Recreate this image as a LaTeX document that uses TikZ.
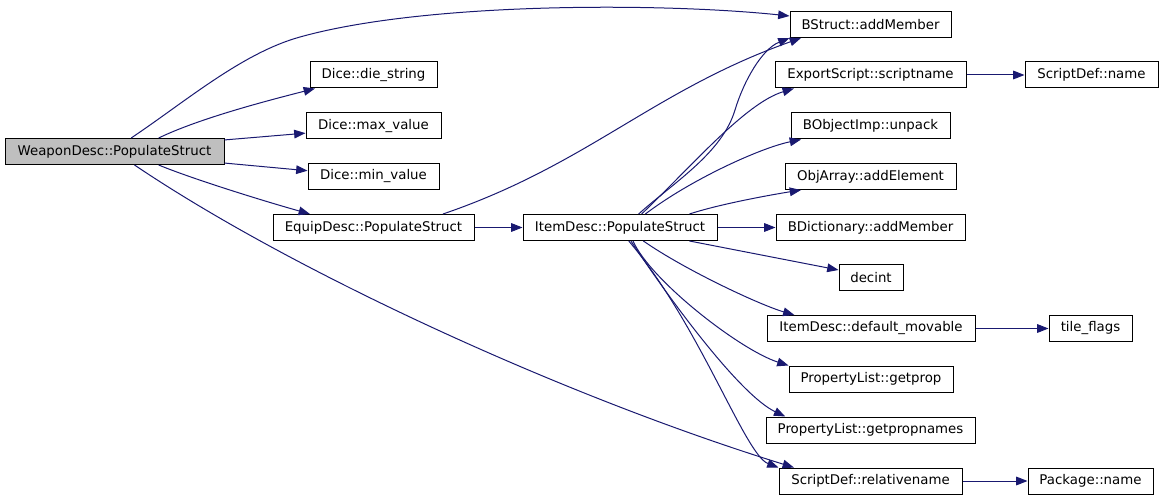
\documentclass[tikz,border=0pt]{standalone}
\usepackage{fontspec}
\setmainfont{DejaVu Sans}
\usetikzlibrary{arrows.meta}
\definecolor{callblue}{RGB}{25,25,112}
\definecolor{rootgrey}{RGB}{191,191,191}
\begin{document}
\begin{tikzpicture}
[
	fn/.style={draw,rectangle,inner xsep=0pt,inner ysep=0pt,minimum height=19.5pt,line width=0.75pt},
	root/.style={fn,fill=rootgrey},
	call/.style={draw=callblue,line width=0.75pt,->},
	>={Triangle[length=8.5pt,width=6.5pt]},
	x=0.75pt,y=-0.75pt
]

	\useasboundingbox (0,0) rectangle (1163,499);

	\node[root,minimum width=164.25pt] at (114.5,151.5) (weapon) {WeaponDesc::PopulateStruct};

	\node[fn,minimum width=95.25pt] at (373.5,75) (dieString) {Dice::die\_string};
	\node[fn,minimum width=101.25pt] at (373.5,126) (maxValue) {Dice::max\_value};
	\node[fn,minimum width=98.25pt] at (373.5,176.5) (minValue) {Dice::min\_value};
	\node[fn,minimum width=150.75pt] at (373.5,227.5) (equip) {EquipDesc::PopulateStruct};
	\node[fn,minimum width=145.5pt] at (620,227.5) (item) {ItemDesc::PopulateStruct};

	\node[fn,minimum width=120.75pt] at (870.5,24.5) (bstruct) {BStruct::addMember};
	\node[fn,minimum width=143.25pt] at (870.5,75) (exportScript) {ExportScript::scriptname};
	\node[fn,minimum width=119.25pt] at (870.5,126) (unpack) {BObjectImp::unpack};
	\node[fn,minimum width=128.25pt] at (870.5,176.5) (objArray) {ObjArray::addElement};
	\node[fn,minimum width=141.75pt] at (870.5,227.5) (bdict) {BDictionary::addMember};
	\node[fn,minimum width=48pt] at (871,277.5) (decint) {decint};
	\node[fn,minimum width=156pt] at (871,328.5) (defMovable) {ItemDesc::default\_movable};
	\node[fn,minimum width=123pt] at (871,379) (getprop) {PropertyList::getprop};
	\node[fn,minimum width=156.75pt] at (870.5,430) (getpropnames) {PropertyList::getpropnames};
	\node[fn,minimum width=137.25pt] at (870.5,481) (relname) {ScriptDef::relativename};

	\node[fn,minimum width=99.75pt] at (1091.5,75) (scriptName) {ScriptDef::name};
	\node[fn,minimum width=62.25pt] at (1090.5,328.5) (tileFlags) {tile\_flags};
	\node[fn,minimum width=93.75pt] at (1090.5,481) (pkgName) {Package::name};

	\draw[call] (weapon.39) .. controls (185,102) and (242,53) .. (300,37)
		.. controls (425,2) and (661,2.6) .. (bstruct.174);
	\draw[call] (weapon.17) .. controls (200,118) and (270,100) .. (dieString.193);
	\draw[call] (weapon.6) -- (maxValue.186);
	\draw[call] (weapon.354) -- (minValue.175);
	\draw[call] (weapon.343) .. controls (190,178) and (260,200) .. (equip.168);
	\draw[call] (weapon.326) .. controls (290,270) and (560,395) .. (relname.170);

	\draw[call] (equip.11) .. controls (588,164.5) and (653,90.5) .. (bstruct.191);
	\draw[call] (equip) -- (item);

	\draw[call] (item.36) .. controls (675,181.5) and (722,153) .. (735,110)
		.. controls (743.7,81) and (762,49) .. (bstruct.south west);
	\draw[call] (item.32) .. controls (692,166) and (745.5,103) .. (exportScript.190);
	\draw[call] (item.28) .. controls (690,180) and (760,148) .. (unpack.191);
	\draw[call] (item.11) .. controls (720,204) and (770,195) .. (objArray.191);
	\draw[call] (item) -- (bdict);
	\draw[call] (item.349) -- (decint.167);
	\draw[call] (item.330) .. controls (685,270) and (760,305) .. (defMovable.170);
	\draw[call] (item.314) .. controls (650,280) and (740,350) .. (getprop.north west);
	\draw[call] (item.309) .. controls (670,300) and (740,395) .. (getpropnames.171);
	\draw[call] (item.303) .. controls (700,325) and (745,455) .. (relname.north west);

	\draw[call] (exportScript) -- (scriptName);
	\draw[call] (defMovable) -- (tileFlags);
	\draw[call] (relname) -- (pkgName);

\end{tikzpicture}
\end{document}
